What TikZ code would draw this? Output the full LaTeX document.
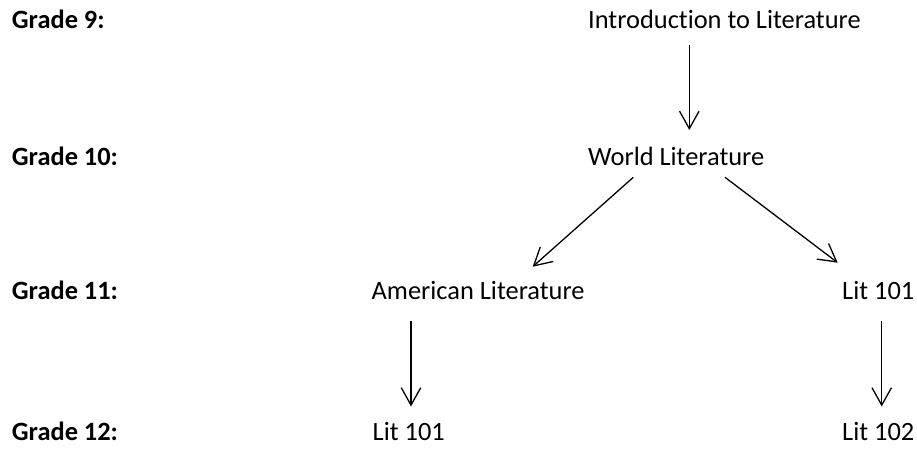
\documentclass[tikz,border=0pt]{standalone}
\usepackage{fontspec}
\setmainfont{Carlito}[Ligatures={NoCommon,NoContextual}]
\usetikzlibrary{arrows.meta,calc}
\tikzset{
  course/.style={inner sep=0pt, anchor=base west, font=\fontsize{26.4}{30}\selectfont},
  grade/.style={course, font=\fontsize{26.4}{30}\selectfont\bfseries},
  link/.style={line width=1.3pt, -{Straight Barb[length=17.5pt,width=19.5pt]}}
}
\begin{document}
\begin{tikzpicture}[x=1pt,y=1pt]
  \useasboundingbox (0,0) rectangle (917,-448);
  % grade labels
  \node[grade] (g9)  at (11.7,-28.3)  {Grade 9:};
  \node[grade] (g10) at (11.7,-165.7) {Grade 10:};
  \node[grade] (g11) at (11.7,-299.3) {Grade 11:};
  \node[grade] (g12) at (11.7,-440.7) {Grade 12:};
  % courses
  \node[course] (intro) at (588,-28.3)    {Introduction to Literature};
  \node[course] (world) at (588,-165.7)   {World Literature};
  \node[course] (amer)  at (371.5,-299.3) {American Literature};
  \node[course] (litA)  at (842,-299.3)   {Lit 101};
  \node[course] (litB)  at (372.5,-440.7) {Lit 101};
  \node[course] (litC)  at (842,-440.7)   {Lit 102};
  % progressions
  \draw[link] ($(intro.base west)+(101.3,-16.7)$) -- ($(world.base west)+(101.3,35.7)$);
  \draw[link] ($(world.base west)+(45.3,-11.6)$) -- ($(amer.base west)+(161.2,32.6)$);
  \draw[link] ($(world.base west)+(137,-11.6)$) -- ($(litA.base west)+(-4.3,36.6)$);
  \draw[link] ($(amer.base west)+(39.5,-21.7)$) -- ($(litB.base west)+(38.5,34.2)$);
  \draw[link] ($(litA.base west)+(39.7,-21.7)$) -- ($(litC.base west)+(39.7,34.2)$);
\end{tikzpicture}
\end{document}
